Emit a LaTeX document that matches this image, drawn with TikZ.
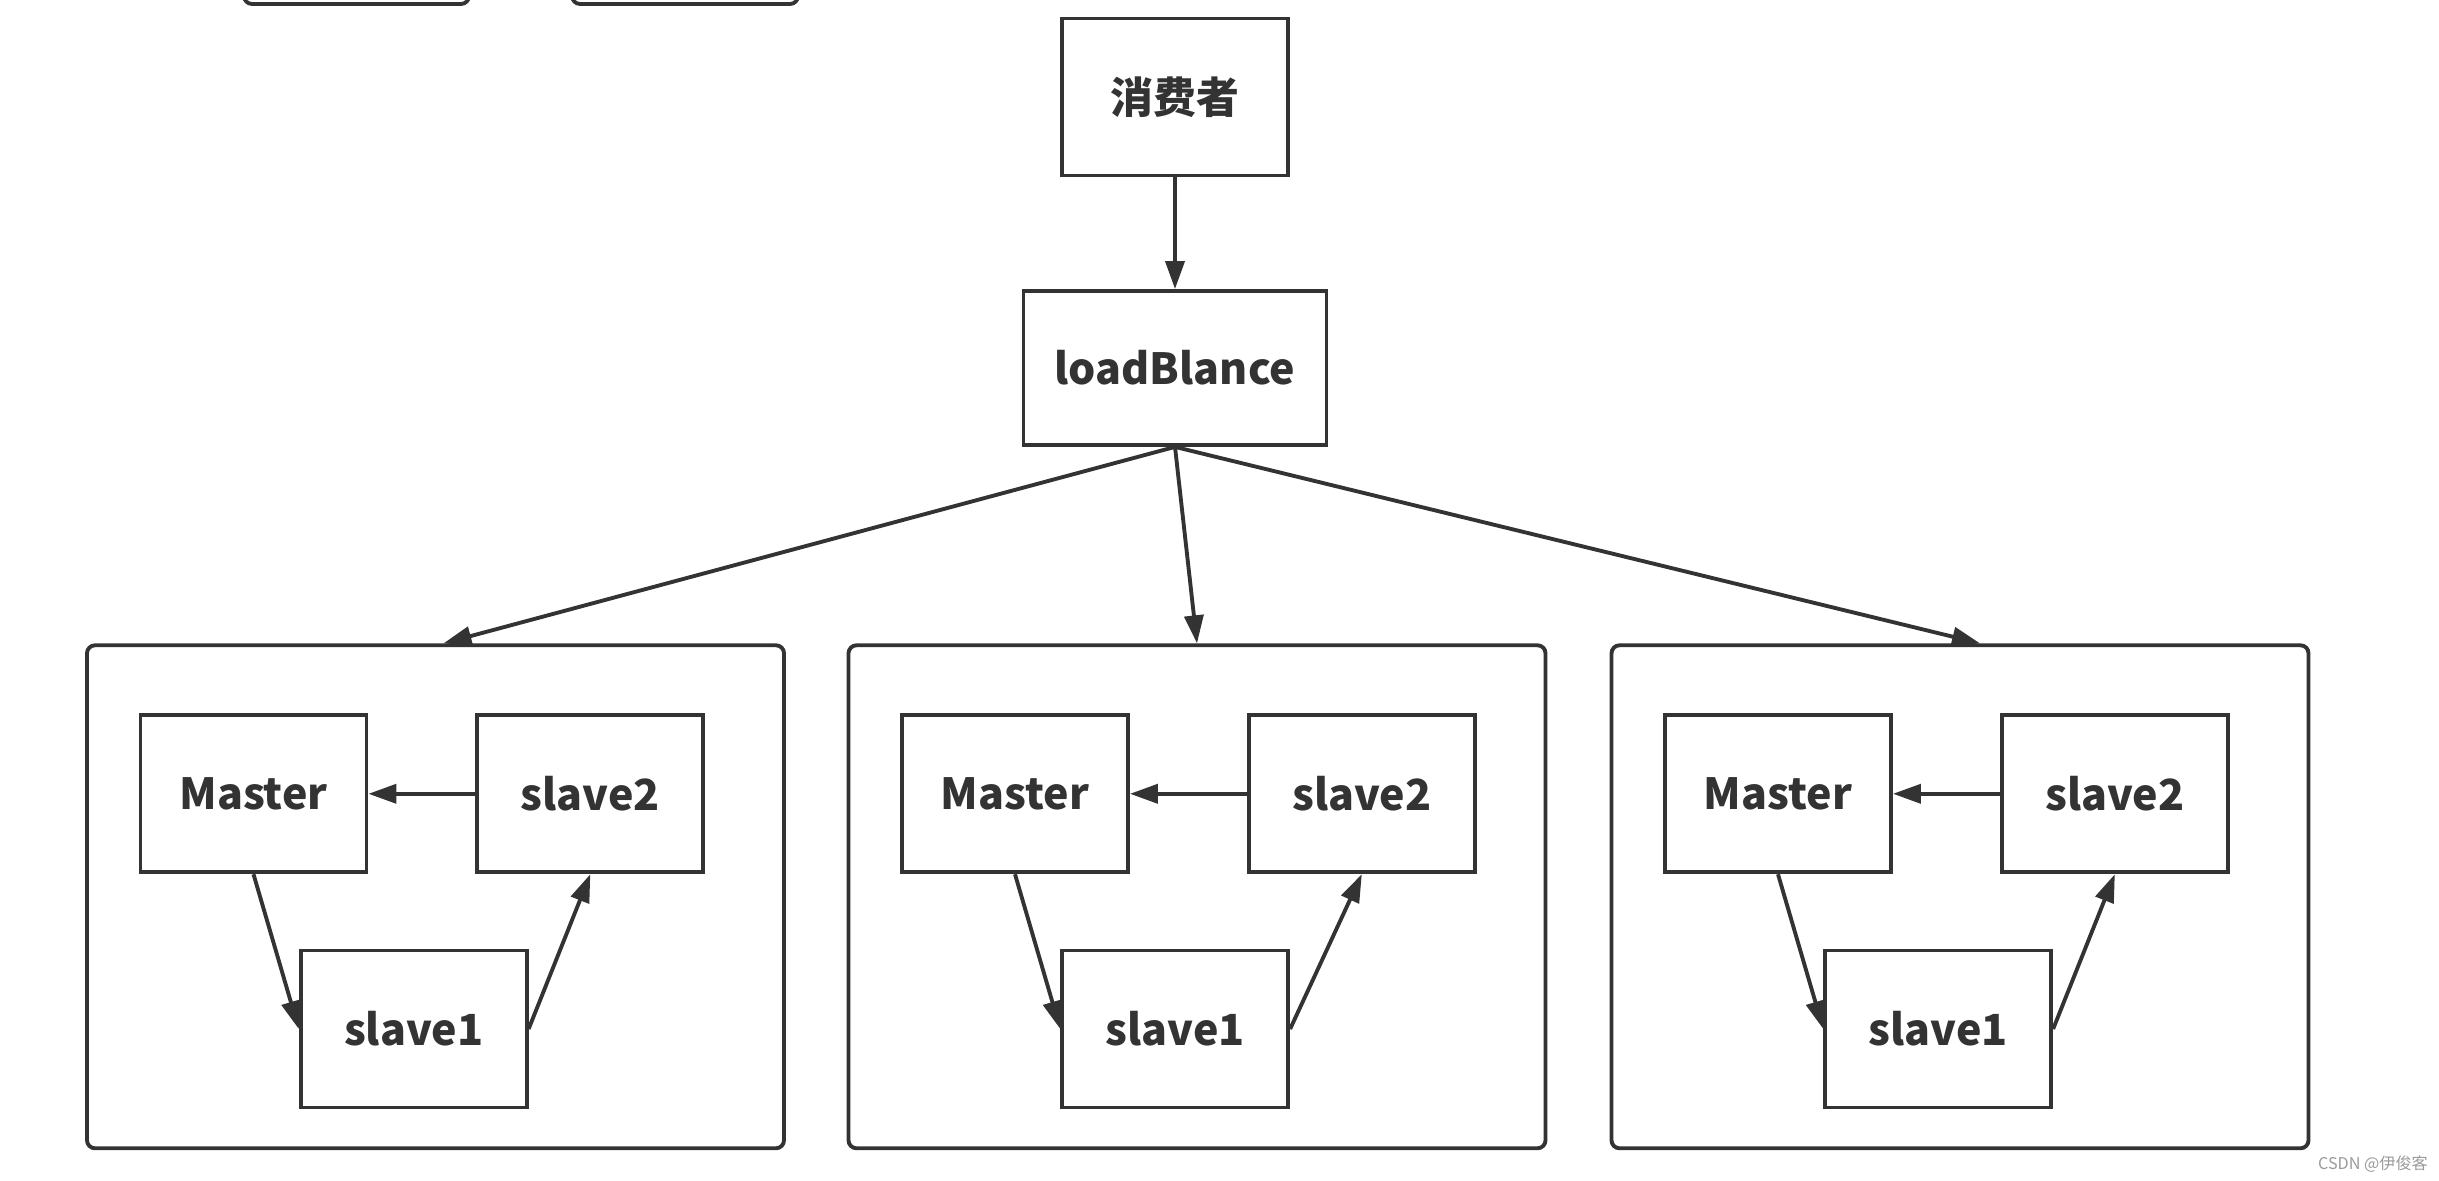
\documentclass[tikz,border=0pt]{standalone}
\usepackage{fontspec}
\setmainfont{Noto Sans CJK SC}
\usetikzlibrary{arrows.meta,calc}
\definecolor{linea}{HTML}{333333}
\definecolor{marca}{HTML}{9A9A9A}

\begin{document}
\begin{tikzpicture}[x=1cm,y=1cm,
    caja/.style={draw=linea, line width=1.1pt, minimum width=2.26cm, minimum height=1.57cm,
                 inner sep=0pt, text=linea, font=\fontsize{12.2}{14}\selectfont\bfseries},
    grupo/.style={draw=linea, line width=1.1pt, rounded corners=0.08cm,
                  minimum width=6.97cm, minimum height=5.03cm, inner sep=0pt},
    flecha/.style={draw=linea, line width=1.1pt, -{Triangle[length=0.28cm,width=0.19cm]}}]

        % Área de dibujo con las proporciones de la imagen
        \clip (0,0) rectangle (24.39,11.81);
        \useasboundingbox (0,0) rectangle (24.39,11.81);

        % Cajas cortadas en el borde superior
        \draw[linea, line width=1.1pt, rounded corners=0.08cm] (2.44,11.77) rectangle (4.69,12.4);
        \draw[linea, line width=1.1pt, rounded corners=0.08cm] (5.72,11.77) rectangle (7.98,12.4);

        % Consumidor y balanceador de carga
        \node[caja] (consumidor) at (11.75,10.84) {消费者};
        \node[caja, minimum width=3.03cm, minimum height=1.54cm] (balanceo) at (11.75,8.13) {loadBlance};
        \draw[flecha] (consumidor.south) -- (balanceo.north);

        % Tres grupos, cada uno con un Master y dos slaves
        % (\ds: corrimiento de slave2, \dx: punto de llegada de la flecha)
        \foreach \i/\cx/\ds/\dx in {1/4.355/0/0.08, 2/11.97/0.1/0, 3/19.60/0/0.2} {
            \node[grupo] (g\i) at (\cx,2.842) {};
            \node[caja] (m\i) at (\cx-1.82,3.872) {Master};
            \node[caja] (sb\i) at (\cx+1.548+\ds,3.872) {slave2};
            \node[caja] (sa\i) at (\cx-0.218,1.52) {slave1};

            % Replicación dentro del grupo
            \draw[flecha] (m\i.south) -- (sa\i.west);
            \draw[flecha] (sa\i.east) -- (sb\i.south);
            \draw[flecha] (sb\i.west) -- (m\i.east);

            % Del balanceador a cada grupo
            \draw[flecha] (balanceo.south) -- ($(g\i.north)+(\dx,0)$);
        }

        % Marca de agua
        \node[text=marca, font=\fontsize{4.6}{5}\selectfont, inner sep=0pt] (marca) at (23.73,0.17) {CSDN @伊俊客};

    \end{tikzpicture}
\end{document}
